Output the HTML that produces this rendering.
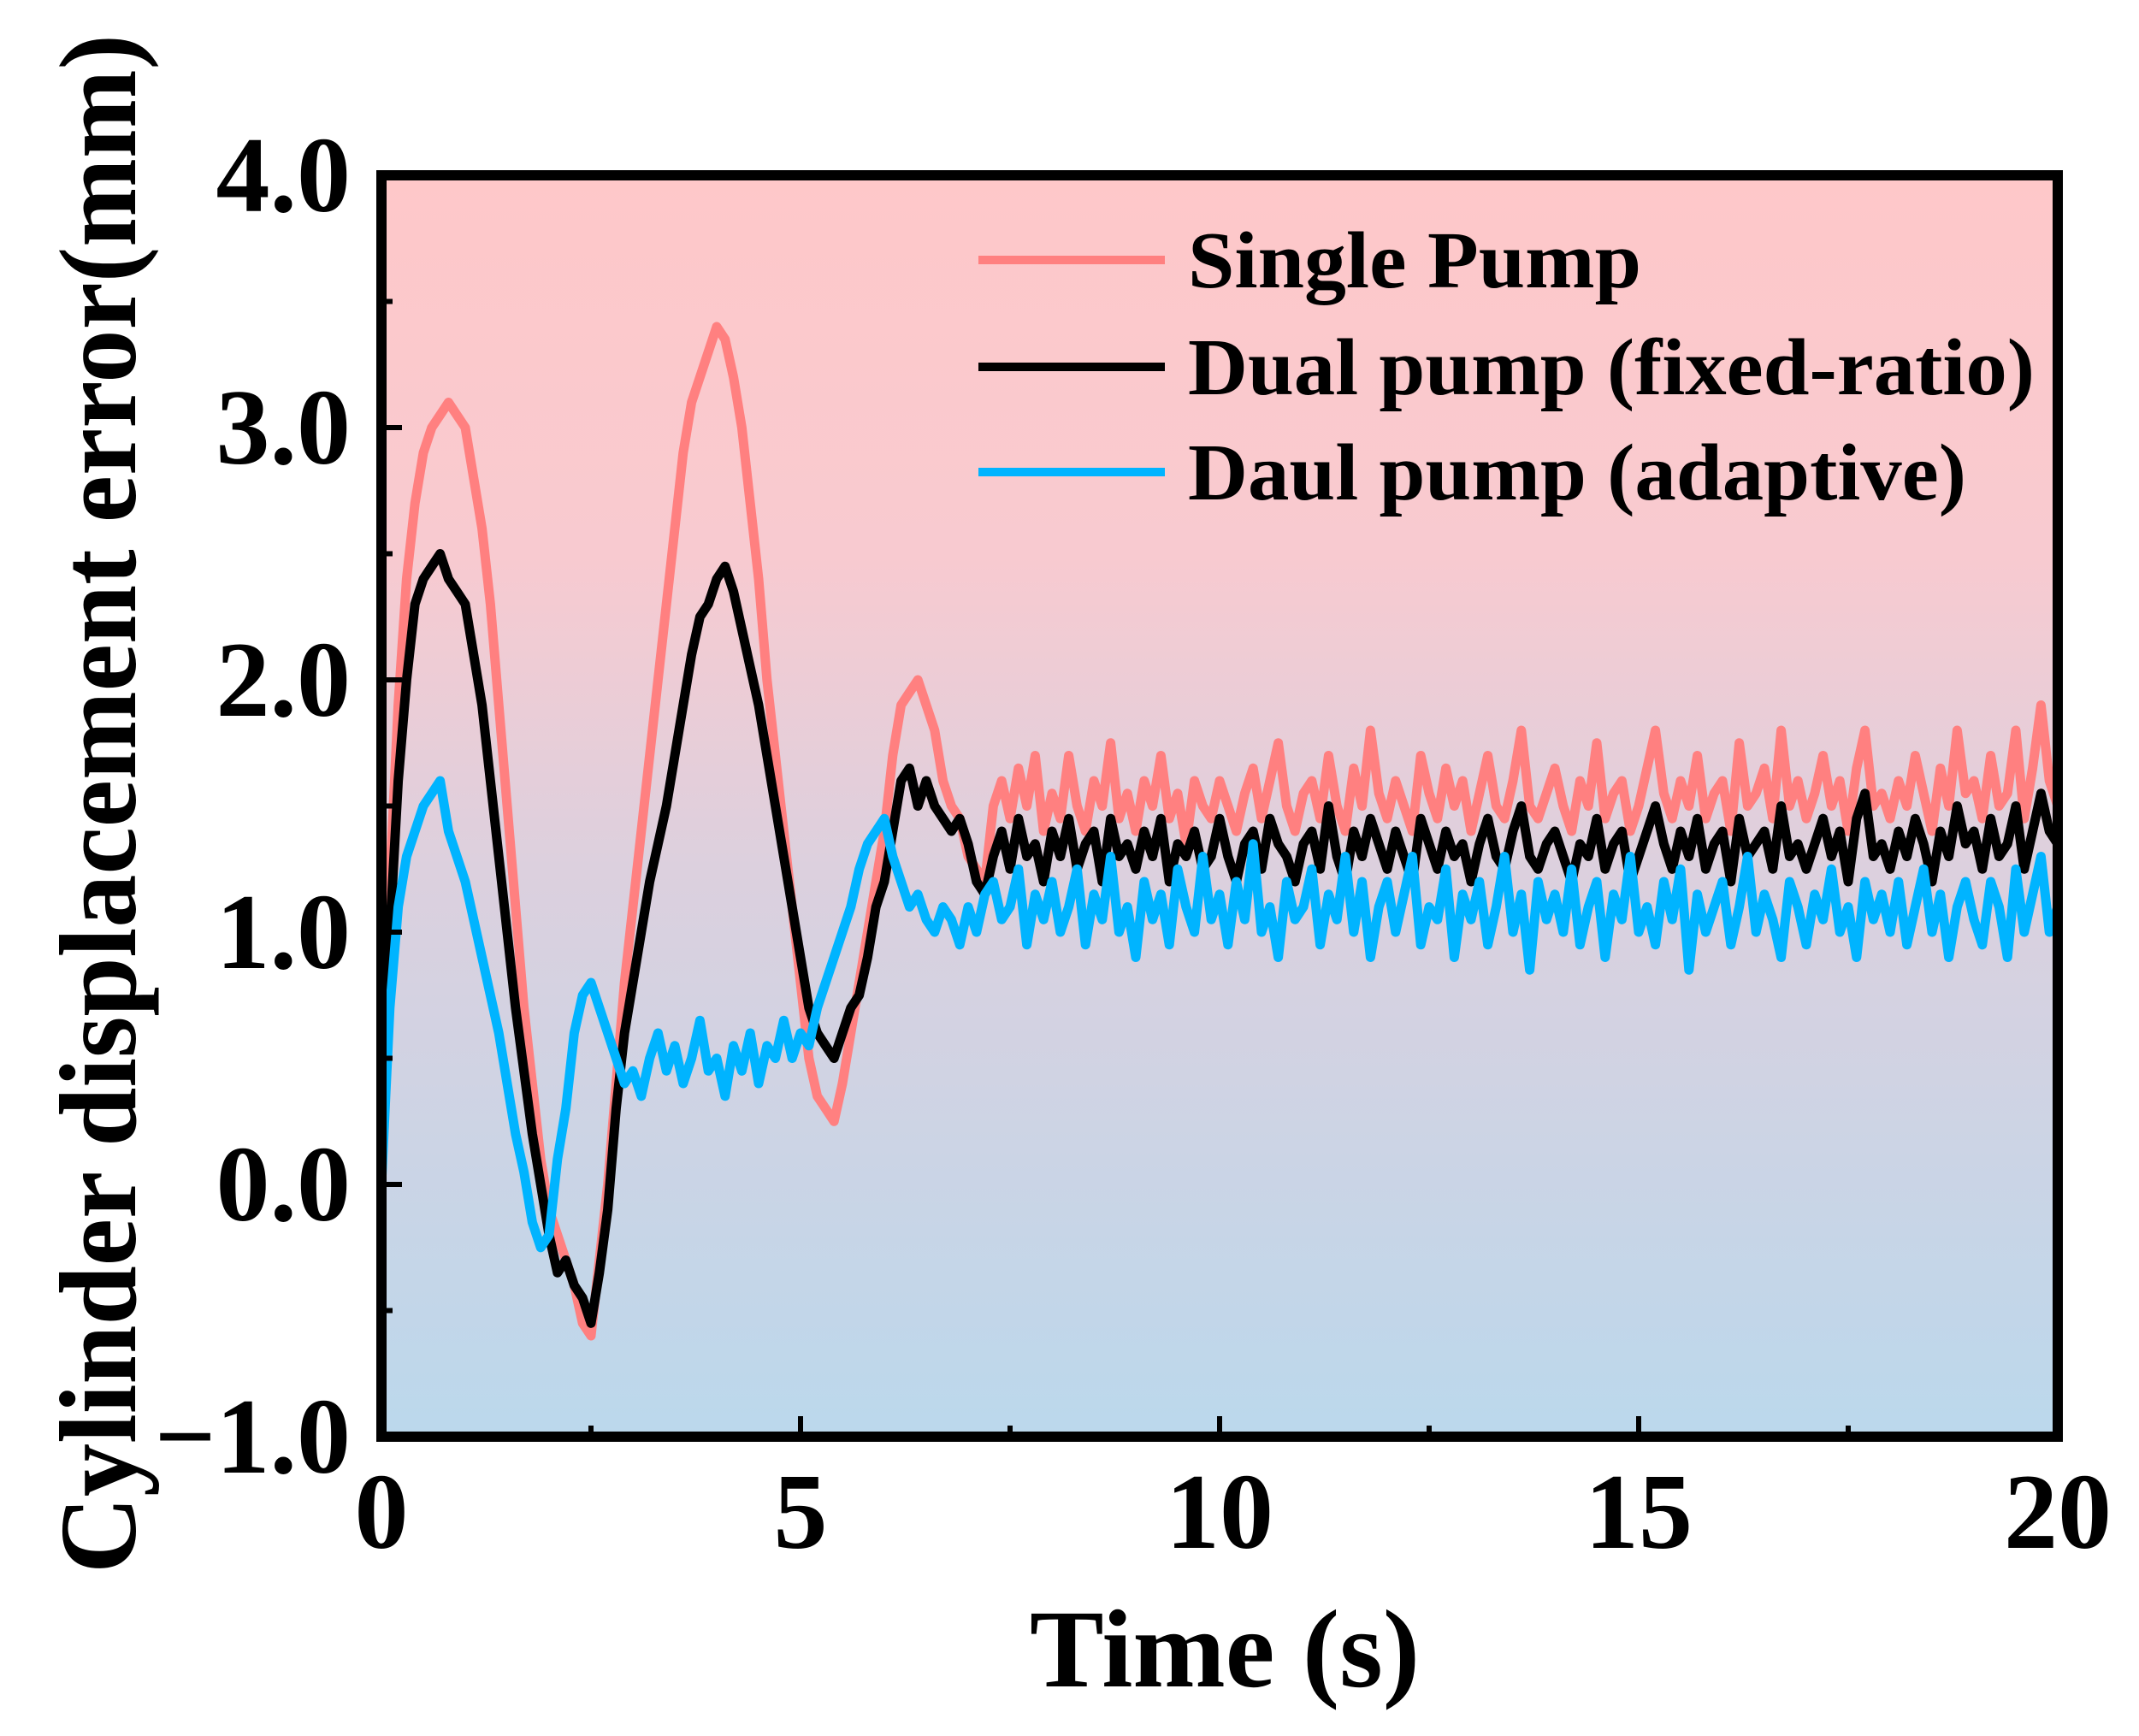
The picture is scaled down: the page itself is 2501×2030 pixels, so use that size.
<!DOCTYPE html>
<html><head><meta charset="utf-8"><style>
html,body{margin:0;padding:0;background:#fff;}
svg{display:block;}
text{font-family:"Liberation Serif",serif;font-weight:bold;fill:#000;}
</style></head><body>
<svg id="chart" width="2501" height="2030" viewBox="0 0 2501 2030" xmlns="http://www.w3.org/2000/svg">
<defs><linearGradient id="bg" x1="0" y1="0" x2="0" y2="1">
<stop offset="0" stop-color="#fec8c9"/><stop offset="0.3" stop-color="#f8cad0"/><stop offset="0.55" stop-color="#dcd0de"/><stop offset="1" stop-color="#bbd8ec"/></linearGradient></defs>
<g id="plot"></g>
</svg>
<script>
const xTicks=[0,5,10,15,20];
const yTicks=[-1,0,1,2,3,4];
const yTickLabels=["\u22121.0","0.0","1.0","2.0","3.0","4.0"];
const singlePump=[0.3,1.2,1.9,2.4,2.7,2.9,3.0,3.05,3.1,3.05,3.0,2.8,2.6,2.3,1.9,1.5,1.1,0.7,0.4,0.1,-0.1,-0.2,-0.3,-0.4,-0.55,-0.6,-0.3,0.0,0.4,0.8,1.1,1.4,1.7,2.0,2.3,2.6,2.9,3.1,3.2,3.3,3.4,3.35,3.2,3.0,2.7,2.4,2.0,1.7,1.4,1.1,0.8,0.5,0.35,0.3,0.25,0.4,0.6,0.8,1.0,1.2,1.4,1.7,1.9,1.95,2.0,1.9,1.8,1.6,1.5,1.45,1.3,1.25,1.2,1.5,1.6,1.45,1.65,1.5,1.7,1.4,1.55,1.45,1.7,1.5,1.4,1.6,1.5,1.75,1.45,1.55,1.4,1.6,1.5,1.7,1.45,1.55,1.35,1.6,1.5,1.45,1.6,1.5,1.4,1.55,1.65,1.45,1.6,1.75,1.5,1.4,1.55,1.6,1.45,1.7,1.5,1.4,1.65,1.5,1.8,1.55,1.45,1.6,1.5,1.4,1.7,1.55,1.45,1.65,1.5,1.6,1.4,1.55,1.7,1.5,1.45,1.6,1.8,1.5,1.45,1.55,1.65,1.5,1.4,1.6,1.5,1.75,1.45,1.55,1.6,1.4,1.5,1.65,1.8,1.55,1.45,1.6,1.5,1.7,1.45,1.55,1.6,1.4,1.75,1.5,1.55,1.65,1.45,1.8,1.5,1.6,1.45,1.55,1.7,1.5,1.6,1.4,1.65,1.8,1.5,1.55,1.45,1.6,1.5,1.7,1.55,1.4,1.65,1.5,1.8,1.55,1.6,1.45,1.7,1.5,1.55,1.8,1.45,1.65,1.9,1.6,1.5];
const dualFixed=[0.2,1.0,1.6,2.0,2.3,2.4,2.45,2.5,2.4,2.35,2.3,2.1,1.9,1.6,1.3,1.0,0.7,0.45,0.2,0.0,-0.2,-0.35,-0.3,-0.4,-0.45,-0.55,-0.35,-0.1,0.3,0.6,0.8,1.0,1.2,1.35,1.5,1.7,1.9,2.1,2.25,2.3,2.4,2.45,2.35,2.2,2.05,1.9,1.7,1.5,1.3,1.1,0.9,0.7,0.6,0.55,0.5,0.6,0.7,0.75,0.9,1.1,1.2,1.4,1.6,1.65,1.5,1.6,1.5,1.45,1.4,1.45,1.35,1.2,1.15,1.3,1.4,1.25,1.45,1.3,1.35,1.2,1.4,1.3,1.45,1.25,1.35,1.4,1.2,1.45,1.3,1.35,1.25,1.4,1.3,1.45,1.2,1.35,1.3,1.4,1.25,1.3,1.45,1.3,1.2,1.35,1.4,1.25,1.45,1.35,1.3,1.2,1.35,1.4,1.25,1.5,1.3,1.2,1.4,1.3,1.45,1.35,1.25,1.4,1.3,1.2,1.45,1.35,1.25,1.4,1.3,1.35,1.2,1.35,1.45,1.3,1.25,1.4,1.5,1.3,1.25,1.35,1.4,1.3,1.2,1.35,1.3,1.45,1.25,1.35,1.4,1.2,1.3,1.4,1.5,1.35,1.25,1.4,1.3,1.45,1.25,1.35,1.4,1.2,1.45,1.3,1.35,1.4,1.25,1.5,1.3,1.35,1.25,1.35,1.45,1.3,1.4,1.2,1.45,1.55,1.3,1.35,1.25,1.4,1.3,1.45,1.35,1.2,1.4,1.3,1.5,1.35,1.4,1.25,1.45,1.3,1.35,1.5,1.25,1.4,1.55,1.4,1.35];
const dualAdaptive=[0.0,0.7,1.1,1.3,1.4,1.5,1.55,1.6,1.4,1.3,1.2,1.05,0.9,0.75,0.6,0.4,0.2,0.05,-0.15,-0.25,-0.2,0.1,0.3,0.6,0.75,0.8,0.7,0.6,0.5,0.4,0.45,0.35,0.5,0.6,0.45,0.55,0.4,0.5,0.65,0.45,0.5,0.35,0.55,0.45,0.6,0.4,0.55,0.5,0.65,0.5,0.6,0.55,0.7,0.8,0.9,1.0,1.1,1.25,1.35,1.4,1.45,1.3,1.2,1.1,1.15,1.05,1.0,1.1,1.05,0.95,1.1,1.0,1.15,1.2,1.05,1.1,1.25,0.95,1.15,1.05,1.2,1.0,1.1,1.25,0.95,1.15,1.05,1.3,1.0,1.1,0.9,1.2,1.05,1.15,0.95,1.25,1.1,1.0,1.3,1.05,1.15,0.95,1.2,1.05,1.35,1.0,1.1,0.9,1.2,1.05,1.1,1.25,0.95,1.15,1.05,1.3,1.0,1.2,0.9,1.1,1.2,1.0,1.15,1.3,0.95,1.1,1.05,1.25,0.9,1.15,1.05,1.2,0.95,1.1,1.3,1.0,1.15,0.85,1.2,1.05,1.15,1.0,1.25,0.95,1.1,1.2,0.9,1.15,1.05,1.3,1.0,1.1,0.95,1.2,1.05,1.25,0.85,1.15,1.0,1.1,1.2,0.95,1.1,1.3,1.0,1.15,1.05,0.9,1.2,1.1,0.95,1.15,1.05,1.25,1.0,1.1,0.9,1.2,1.05,1.15,1.0,1.2,0.95,1.1,1.25,1.0,1.15,0.9,1.1,1.2,1.05,0.95,1.2,1.1,0.9,1.25,1.0,1.15,1.3,1.0,1.1];
const timeStep=0.1;
const legendLabels=["Single Pump","Dual pump (fixed-ratio)","Daul pump (adaptive)"];

const X0=446,X1=2406,Y0=1680,Y1=205;
const xs=v=>X0+(v-0)/(20-0)*(X1-X0);
const ys=v=>Y0-(v+1)/(4+1)*(Y0-Y1);
const NS="http://www.w3.org/2000/svg";
const svg=document.getElementById('chart');
function mk(tag,attrs,parent){const e=document.createElementNS(NS,tag);for(const k in attrs)e.setAttribute(k,attrs[k]);(parent||svg).appendChild(e);return e;}

const bg=mk('rect',{x:X0,y:Y1,width:X1-X0,height:Y0-Y1,fill:'url(#bg)'});



const series=[{d:singlePump,c:'#ff8080',n:'series-single-pump'},{d:dualFixed,c:'#000000',n:'series-dual-fixed-ratio'},{d:dualAdaptive,c:'#00b4ff',n:'series-dual-adaptive'}];
series.forEach(s=>{
  const pts=s.d.map((v,i)=>xs(i*timeStep).toFixed(1)+','+ys(v).toFixed(1)).join(' ');
  const p=mk('polyline',{points:pts,fill:'none',stroke:s.c,'stroke-width':11,'stroke-linejoin':'round'});
  
  
});

for(let v=-0.5;v<4;v+=0.5){
  const major=Math.abs(v-Math.round(v))<1e-6;
  const t=mk('line',{x1:X0,x2:X0+(major?24:13),y1:ys(v),y2:ys(v),stroke:'#000','stroke-width':6});
  
  
}
for(let v=2.5;v<20;v+=2.5){
  const major=v%5===0;
  const t=mk('line',{x1:xs(v),x2:xs(v),y1:Y0,y2:Y0-(major?24:13),stroke:'#000','stroke-width':6});
  
  
}
const fr=mk('rect',{x:X0,y:Y1,width:X1-X0,height:Y0-Y1,fill:'none',stroke:'#000','stroke-width':12});



yTicks.forEach((v,i)=>{
  const t=mk('text',{x:410,y:ys(v)+42,'text-anchor':'end','font-size':126});
  t.textContent=yTickLabels[i];
  
  
});
xTicks.forEach(v=>{
  const t=mk('text',{x:xs(v),y:1810,'text-anchor':'middle','font-size':126});
  t.textContent=String(v);
  
  
});
const xt=mk('text',{x:1432,y:1972,'text-anchor':'middle','font-size':130});
xt.textContent='Time (s)';


const yt=mk('text',{x:0,y:0,'text-anchor':'middle','font-size':128,transform:'translate(158,940) rotate(-90)',textLength:1800,lengthAdjust:'spacingAndGlyphs'});
yt.textContent='Cylinder displacement error(mm)';



const legendY=[304,429,552];
const legendW=[530,990,910];
series.forEach((s,i)=>{
  const g=mk('g',{});
  
  
  mk('line',{x1:1144,x2:1362,y1:legendY[i],y2:legendY[i],stroke:s.c,'stroke-width':10},g);
  const t=mk('text',{x:1389,y:legendY[i]+32,'font-size':94,textLength:legendW[i],lengthAdjust:'spacingAndGlyphs'},g);
  t.textContent=legendLabels[i];
});
</script>
</body></html>
